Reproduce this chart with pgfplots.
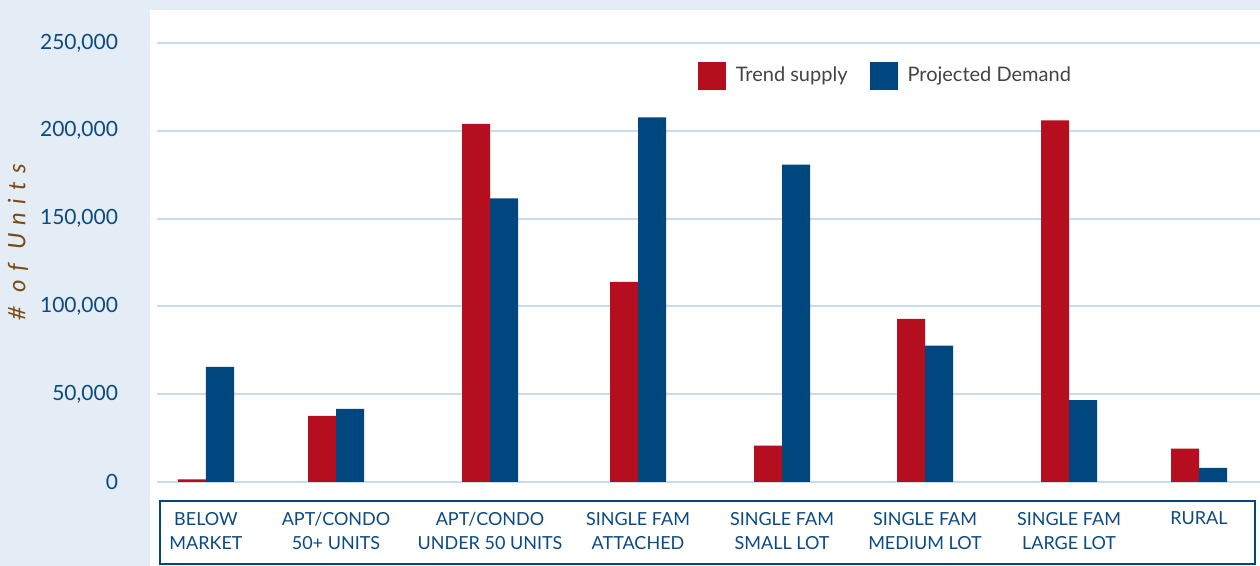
\documentclass[border=0pt]{standalone}
\usepackage{fontspec}
\setmainfont{Lato}
\newfontfamily\ylabfont[LetterSpace=35]{Lato}
\usepackage{pgfplots}
\pgfplotsset{compat=1.18}
\definecolor{bgblue}{HTML}{E4EDF5}
\definecolor{trendred}{HTML}{B50E1E}
\definecolor{demblue}{HTML}{00467F}
\definecolor{tickblue}{HTML}{0B4A82}
\definecolor{gridblue}{HTML}{C9DCEA}
\definecolor{labbrown}{HTML}{7B4A12}
\definecolor{legtext}{HTML}{444444}
\begin{document}
\begin{tikzpicture}[x=1pt,y=1pt]
\fill[bgblue] (0,0) rectangle (630,283);
\fill[white] (75,0) rectangle (630,278);
\begin{axis}[
    at={(78.5pt,42pt)}, anchor=south west,
    scale only axis, width=551.5pt, height=219.5pt,
    xmin=157, xmax=1260, ymin=0, ymax=250000,
    enlargelimits=false,
    ybar, bar width=28,
    axis line style={draw=none},
    major tick length=0pt,
    ymajorgrids, grid style={gridblue, line width=1pt},
    ytick={0,50000,100000,150000,200000,250000},
    scaled y ticks=false,
    yticklabel={\pgfmathprintnumber[fixed, precision=0, 1000 sep={,}, assume math mode=true]{\tick}},
    yticklabel style={font=\fontsize{10.5}{13}\selectfont, text=tickblue, xshift=-16pt},
    xtick={206,336,490,638,782,925,1069,1199},
    xticklabels={{BELOW\\MARKET},{APT/CONDO\\50+ UNITS},{APT/CONDO\\UNDER 50 UNITS},
        {SINGLE FAM\\ATTACHED},{SINGLE FAM\\SMALL LOT},{SINGLE FAM\\MEDIUM LOT},
        {SINGLE FAM\\LARGE LOT},{RURAL}},
    xticklabel style={font=\fontsize{9}{12}\selectfont, text=tickblue, align=center,
        anchor=north, yshift=-11.5pt},
    legend columns=-1,
    legend style={at={(rel axis cs:0.4845,0.925)}, anchor=west, draw=none, fill=none,
        font=\fontsize{10}{12}\selectfont, text=legtext,
        /tikz/every odd column/.append style={column sep=3pt},
        /tikz/every even column/.append style={column sep=9pt}},
    legend image code/.code={\path[#1,draw=none] (0pt,-7pt) rectangle (14pt,7pt);},
]
\addplot[fill=trendred, draw=none, bar shift=-14] coordinates {
    (206,1500) (336,37600) (490,204000) (638,114000)
    (782,20700) (925,92900) (1069,206000) (1199,19000)};
\addplot[fill=demblue, draw=none, bar shift=14] coordinates {
    (206,65500) (336,41600) (490,161500) (638,207600)
    (782,180800) (925,77600) (1069,46600) (1199,8000)};
\legend{Trend supply, Projected Demand}
\end{axis}
\draw[demblue, line width=1.2pt] (80,1) rectangle (627.5,32.5);
\node[rotate=90, text=labbrown, font=\ylabfont\itshape\fontsize{12}{14}\selectfont] at (9,162) {\# of Units};
\pgfresetboundingbox
\useasboundingbox (0,0) rectangle (630,283);
\end{tikzpicture}
\end{document}
